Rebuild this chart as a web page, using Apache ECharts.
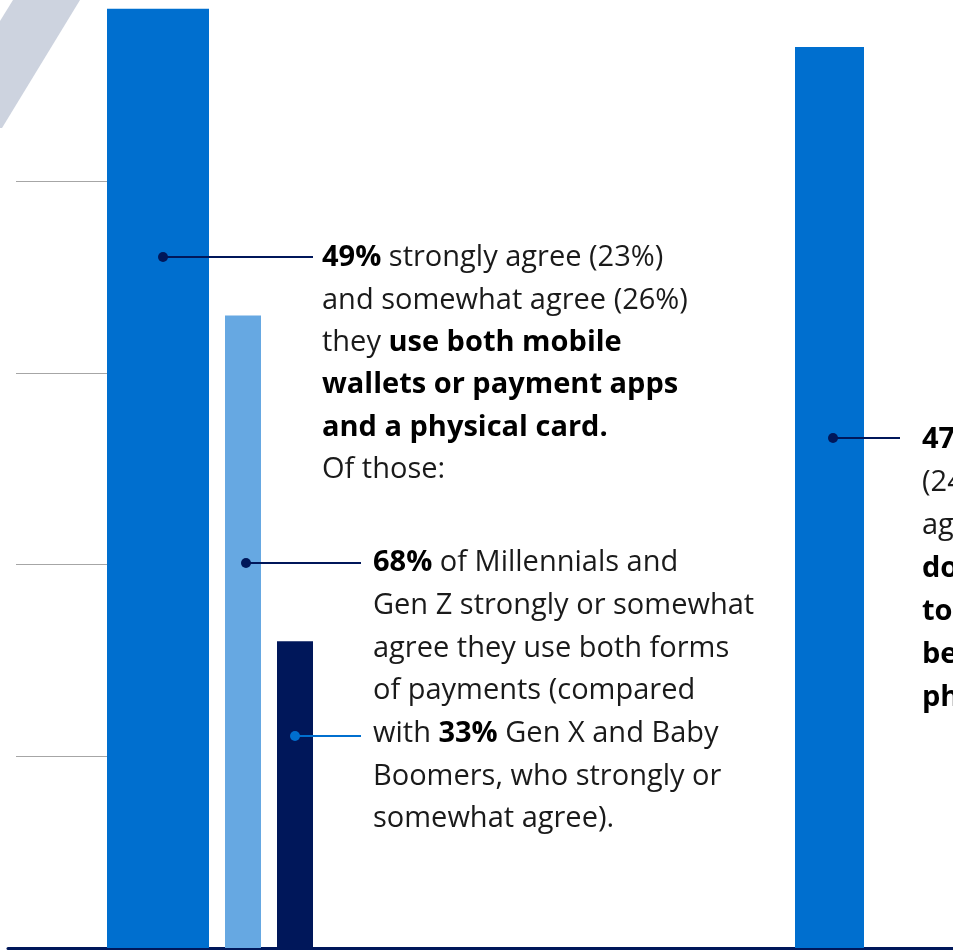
<!DOCTYPE html>
<html>
<head>
<meta charset="utf-8">
<script src="https://cdn.jsdelivr.net/npm/echarts@6/dist/echarts.min.js"></script>
<style>
html, body { margin: 0; padding: 0; background: #fff; }
#chart1 { width: 953px; height: 951px; }
</style>
</head>
<body>
<div id="chart1"></div>
<script>
var myChart = echarts.init(document.getElementById('chart1'));

// 数据
var barNames = ['Both (all)', 'Millennials & Gen Z', 'Gen X & Boomers', 'Other'];
var barValues = [49, 33, 16, 47];
var yTicks = [0, 10, 20, 30, 40];

var colors = ['#006fcf', '#66a8e2', '#00175a', '#006fcf'];
var barLeft = [107, 225, 277, 795];
var barW = [102, 36, 36, 69];
var fontFam = '"Open Sans", sans-serif';
var fs = 29;

var baseY = 948;      // 底线位置
var pxPerUnit = 19.17; // 每1%的像素
var bottom0 = 951 - baseY;
var yMin = yTicks[0], yTop = yTicks[yTicks.length - 1];
var fullMax = baseY / pxPerUnit; // 画布顶部对应的值

var grids = [], xAxes = [], yAxes = [], series = [];
// 底线
grids.push({ left: 8, right: 0, top: 0, bottom: bottom0 });
// 网格线 (只在左边)
grids.push({ left: 16, width: 91, top: baseY - yTop * pxPerUnit, bottom: bottom0 });
for (var g = 0; g < 2; g++) {
	xAxes.push({
		gridIndex: g, type: 'category', data: [''],
		axisLine: { show: g === 0, lineStyle: { color: '#00175a', width: 3 } },
		axisTick: { show: false }, axisLabel: { show: false }
	});
	yAxes.push({
		gridIndex: g, type: 'value', min: yMin, max: g === 1 ? yTop : fullMax, interval: 10,
		axisLine: { show: false }, axisTick: { show: false }, axisLabel: { show: false },
		splitLine: { show: g === 1, lineStyle: { color: '#a6a6a6', width: 1 } }
	});
}
// 每个柱子一个grid
for (var i = 0; i < barValues.length; i++) {
	var gi = grids.length;
	grids.push({ left: barLeft[i], width: barW[i], top: 0, bottom: bottom0 });
	xAxes.push({
		gridIndex: gi, type: 'category', data: [barNames[i]],
		axisLine: { show: false }, axisTick: { show: false }, axisLabel: { show: false }
	});
	yAxes.push({
		gridIndex: gi, type: 'value', min: yMin, max: fullMax,
		axisLine: { show: false }, axisTick: { show: false }, axisLabel: { show: false },
		splitLine: { show: false }
	});
	series.push({
		name: barNames[i], type: 'bar', xAxisIndex: gi, yAxisIndex: gi,
		barWidth: '100%', silent: true, z: 3,
		itemStyle: { color: colors[i] },
		data: [barValues[i]]
	});
}

function leader(x1, x2, y, c) {
	return [
		{ type: 'line', z: 10, shape: { x1: x1, y1: y, x2: x2, y2: y }, style: { stroke: c, lineWidth: 2 } },
		{ type: 'circle', z: 11, shape: { cx: x1, cy: y, r: 5 }, style: { fill: c } }
	];
}
function note(x, y, lines, lh) {
	return {
		type: 'text', z: 12, x: x, y: y - lh / 2,
		style: {
			text: lines.join('\n'),
			fill: '#1a1a1a',
			fontSize: fs, fontFamily: fontFam, fontWeight: 'normal',
			lineHeight: lh, verticalAlign: 'top', align: 'left',
			rich: {
				b: { fontSize: fs, fontFamily: fontFam, fontWeight: 'bold', fill: '#000', lineHeight: lh }
			}
		}
	};
}

var graphic = [
	{ type: 'polygon', z: 0, shape: { points: [[13, 0], [80, 0], [2, 128], [0, 128], [0, 21]] }, style: { fill: '#cdd3df' } }
];
graphic = graphic.concat(leader(163, 313, 257, '#00175a'));
graphic = graphic.concat(leader(246, 361, 563, '#00175a'));
graphic = graphic.concat(leader(295, 361, 736, '#006fcf'));
graphic = graphic.concat(leader(833, 900, 438, '#00175a'));
graphic.push(note(322, 258, [
	'{b|49%} strongly agree (23%)',
	'and somewhat agree (26%)',
	'they {b|use both mobile}',
	'{b|wallets or payment apps}',
	'{b|and a physical card.}',
	'Of those:'
], 42.4));
graphic.push(note(373, 563, [
	'{b|68%} of Millennials and',
	'Gen Z strongly or somewhat',
	'agree they use both forms',
	'of payments (compared',
	'with {b|33%} Gen X and Baby',
	'Boomers, who strongly or',
	'somewhat agree).'
], 42.67));
graphic.push(note(922, 440, [
	'{b|47%} strongly agree',
	'(24%) and somewhat',
	'agree (23%) they',
	'{b|do not want}',
	'{b|to choose}',
	'{b|between digital and}',
	'{b|physical payments.}'
], 43));

var option = {
	animation: false,
	backgroundColor: '#fff',
	grid: grids,
	xAxis: xAxes,
	yAxis: yAxes,
	series: series,
	graphic: graphic
};
myChart.setOption(option);
</script>
</body>
</html>
